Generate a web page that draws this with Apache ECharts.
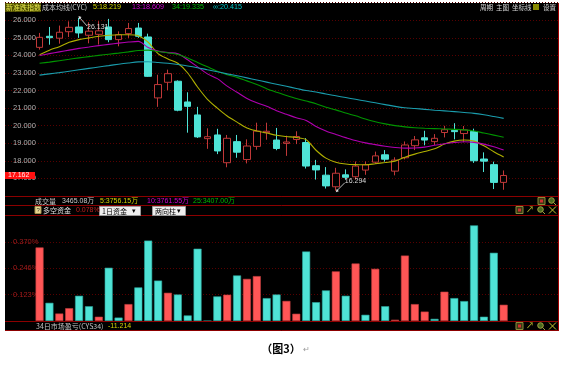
<!DOCTYPE html>
<html><head><meta charset="utf-8">
<script src="https://cdn.jsdelivr.net/npm/echarts@6/dist/echarts.min.js"></script>
<style>html,body{margin:0;padding:0;background:#fff}#c{width:561px;height:366px}</style>
</head><body><div id="c"></div>
<script>
// ---------- DATA ----------
const days = ['1','2','3','4','5','6','7','8','9','10','11','12','13','14','15','16','17','18','19','20','21','22','23','24','25','26','27','28','29','30','31','32','33','34','35','36','37','38','39','40','41','42','43','44','45','46','47','48'];
const openP  = [24.46,25.09,24.98,25.35,25.62,25.15,25.20,25.62,24.90,25.24,25.56,25.05,21.58,22.47,22.53,21.35,20.61,19.26,19.47,17.89,19.09,18.07,18.82,19.60,19.18,18.99,19.21,19.04,17.72,17.18,16.52,17.20,17.09,17.47,17.92,18.34,17.41,18.17,18.86,19.31,19.09,19.61,19.73,19.55,19.67,18.10,17.78,16.77];
const closeP = [25.03,25.01,25.32,25.60,25.28,25.38,25.40,24.90,25.18,25.53,25.09,22.81,22.34,22.96,20.88,21.10,19.36,19.37,18.56,19.28,18.49,18.84,19.69,19.68,18.70,19.07,19.38,17.70,17.48,16.57,17.29,17.06,17.70,17.77,18.28,18.09,18.04,18.90,19.19,19.18,19.28,19.77,19.66,19.76,18.00,17.98,16.77,17.162];
const lowP   = [24.33,24.61,24.67,25.05,25.00,24.69,24.62,24.75,24.52,25.00,25.00,22.78,21.07,22.02,20.82,19.60,19.30,18.68,18.38,17.63,18.17,17.85,18.63,19.20,18.60,18.28,18.95,17.56,16.93,16.42,16.294,16.92,16.93,17.20,17.82,17.95,17.17,18.08,18.61,18.88,18.90,19.33,19.22,19.05,17.88,17.36,16.39,16.35];
const highP  = [25.28,25.62,25.70,25.94,26.131,25.89,25.95,26.08,25.37,25.85,25.85,25.24,22.90,23.19,22.58,21.90,21.07,19.85,19.82,19.47,19.47,19.22,20.17,20.17,19.87,19.43,19.68,19.29,18.05,17.64,17.60,17.51,17.96,17.96,18.52,18.61,18.20,19.10,19.41,19.71,19.52,19.99,20.14,19.98,19.83,18.48,17.95,17.45];
const ma5    = [24.04,24.30,24.50,24.75,24.90,25.00,25.09,25.15,25.18,25.18,25.12,24.75,24.10,23.80,23.55,23.00,22.20,21.50,21.00,20.55,20.20,19.87,19.70,19.58,19.45,19.38,19.33,19.20,18.60,18.15,17.92,17.82,17.78,17.77,17.83,17.90,17.98,18.20,18.38,18.53,18.68,18.95,19.12,19.18,19.12,18.85,18.52,18.219];
const ma13   = [24.00,24.10,24.20,24.30,24.40,24.48,24.56,24.63,24.70,24.76,24.80,24.45,24.25,24.16,24.10,23.75,23.35,22.95,22.68,22.25,21.90,21.55,21.30,21.10,20.85,20.65,20.45,20.30,19.95,19.70,19.50,19.32,19.15,19.02,18.92,18.83,18.76,18.72,18.73,18.78,18.88,18.97,19.04,19.08,19.05,18.95,18.80,18.609];
const ma34   = [23.55,23.62,23.70,23.78,23.86,23.93,24.00,24.07,24.13,24.20,24.28,24.30,24.22,24.15,24.05,23.85,23.60,23.35,23.10,22.90,22.75,22.55,22.35,22.10,21.90,21.72,21.55,21.40,21.25,21.05,20.90,20.72,20.56,20.38,20.22,20.10,20.00,19.93,19.88,19.85,19.83,19.81,19.79,19.76,19.70,19.58,19.46,19.335];
const maInf  = [22.88,22.95,23.02,23.10,23.18,23.26,23.34,23.42,23.50,23.57,23.63,23.64,23.60,23.55,23.48,23.40,23.30,23.18,23.07,22.95,22.84,22.72,22.60,22.48,22.36,22.24,22.12,22.00,21.92,21.80,21.70,21.60,21.50,21.40,21.30,21.20,21.10,21.02,20.98,20.93,20.88,20.84,20.80,20.75,20.70,20.62,20.52,20.415];
const fundVal  = [0.344,0.085,0.035,0.060,0.118,0.069,0.020,0.249,0.016,0.079,0.157,0.376,0.189,0.132,0.124,0.026,0.338,0.000,0.115,0.123,0.213,0.197,0.210,0.107,0.124,0.094,0.034,0.325,0.088,0.143,0.232,0.118,0.269,0.029,0.244,0.069,0.006,0.306,0.079,0.044,0.010,0.137,0.107,0.093,0.447,0.020,0.319,0.076];
const fundSide = ['r','c','r','r','c','c','r','c','c','r','c','c','c','r','c','c','c','c','c','r','c','r','r','c','c','r','r','c','c','c','r','c','r','c','r','c','r','r','r','r','c','r','c','c','c','c','c','r'];
const priceTickLabels = {26:'26.000',25:'25.000',24:'24.000',23:'23.000',22:'22.000',21:'21.000',20:'20.000',19:'19.000',18:'18.000',17:'17.000'};
const fundTickLabels = ['', '0.123%', '0.246%', '0.370%', ''];
const headerMA = ['5:18.219','13:18.609','34:19.335','\u221e:20.415'];
const volHeader = ['3465.08\u4e07','5:3756.15\u4e07','10:3761.55\u4e07','25:3407.00\u4e07'];

// ---------- BUILD ----------
const LEAD = 3, TRAIL = 5;
const cats = [];
for (let i = 0; i < LEAD; i++) cats.push('pre' + i);
days.forEach(d => cats.push(d));
for (let i = 0; i < TRAIL; i++) cats.push('post' + i);
const padL = arr => { const a = []; for (let i = 0; i < LEAD; i++) a.push('-'); return a.concat(arr); };

const candleData = padL(days.map((d, i) => [openP[i], closeP[i], lowP[i], highP[i]]));
const RED = '#ff5656', CYAN = '#4fe3d6';
const fundData = padL(fundVal.map((v, i) => ({ value: v, itemStyle: fundSide[i] === 'r'
  ? { color: RED, borderColor: '#c03c3c', borderWidth: 0.6 }
  : { color: CYAN, borderColor: '#2aa89e', borderWidth: 0.6 } })));
const fundInterval = 0.37 / 3;

const FONT = '"Liberation Sans","Noto Sans CJK SC",sans-serif';
const CJK = '"Noto Sans CJK SC","Liberation Sans",sans-serif';
const GRID_RED = '#580000';

const chart = echarts.init(document.getElementById('c'), null, { width: 561, height: 366 });
const maLine = (name, data, color) => ({
  name, type: 'line', xAxisIndex: 0, yAxisIndex: 0, data: padL(data), symbol: 'none', smooth: 0.3,
  lineStyle: { color, width: 1.1 }, z: 4, silent: true, animation: false
});

chart.setOption({
  backgroundColor: '#ffffff',
  animation: false,
  grid: [
    { left: 5, right: 3, top: 2.74, height: 193.16 },
    { left: 5, right: 3, top: 215.5, height: 105.5 }
  ],
  xAxis: [
    { type: 'category', gridIndex: 0, data: cats, boundaryGap: true, axisLine: { show: false }, axisTick: { show: false }, axisLabel: { show: false }, splitLine: { show: false } },
    { type: 'category', gridIndex: 1, data: cats, boundaryGap: true, axisLine: { show: false }, axisTick: { show: false }, axisLabel: { show: false }, splitLine: { show: false } }
  ],
  yAxis: [
    { type: 'value', gridIndex: 0, min: 16, max: 27, interval: 1, axisLine: { show: false }, axisTick: { show: false },
      axisLabel: { inside: true, margin: 8, color: '#b0b0b0', fontSize: 7.5, fontFamily: FONT, showMinLabel: false, showMaxLabel: false,
        formatter: v => priceTickLabels[Math.round(v)] || '' },
      splitLine: { show: true, lineStyle: { color: GRID_RED, type: [1, 2], width: 1 } } },
    { type: 'value', gridIndex: 1, min: 0, max: fundInterval * 4, interval: fundInterval, axisLine: { show: false }, axisTick: { show: false },
      axisLabel: { inside: true, margin: 8, color: '#a01c1c', fontSize: 7.5, fontFamily: FONT, showMinLabel: false, showMaxLabel: false,
        formatter: v => fundTickLabels[Math.round(v / fundInterval)] || '' },
      splitLine: { show: true, lineStyle: { color: GRID_RED, type: [1, 2], width: 1 } } }
  ],
  series: [
    { name: 'K', type: 'candlestick', xAxisIndex: 0, yAxisIndex: 0, data: candleData, barWidth: 7, z: 3,
      itemStyle: { color: '#000000', color0: CYAN, borderColor: '#c03838', borderColor0: CYAN, borderWidth: 1 } },
    maLine('MA5', ma5, '#b0b000'),
    maLine('MA13', ma13, '#b000b0'),
    maLine('MA34', ma34, '#009400'),
    maLine('MAinf', maInf, '#1a9cac'),
    { name: 'fund', type: 'bar', xAxisIndex: 1, yAxisIndex: 1, data: fundData, barWidth: 8 }
  ]
});

// ---------- DECORATION ----------
function txt(text, x, y, fill, size, family, extra) {
  return Object.assign({ type: 'text', z: 50, silent: true, style: Object.assign({ text, x, y, fill, fontSize: size || 7, fontFamily: family || FONT, verticalAlign: 'middle', align: 'left' }, extra || {}) });
}
function line(x1, y1, x2, y2, stroke, z) {
  return { type: 'line', z: z || 40, silent: true, shape: { x1, y1, x2, y2 }, style: { stroke, lineWidth: 1 } };
}
function rect(x, y, w, h, fill, stroke, z) {
  return { type: 'rect', z: z || 40, silent: true, shape: { x, y, width: w, height: h }, style: { fill, stroke: stroke || null, lineWidth: 1 } };
}
function calcIcon(x, y) { return [rect(x, y, 7, 7, '#3b3b14', '#8a8a3a'), rect(x + 2, y + 2, 3, 3, '#d03030')]; }
function arrowIcon(x, y) { return [txt('\u2197', x - 1, y + 3.5, '#c8c832', 8, FONT)]; }
function lensIcon(x, y) { return [{ type: 'circle', z: 40, silent: true, shape: { cx: x + 3.5, cy: y + 3, r: 2.8 }, style: { fill: '#4a6a20', stroke: '#a0a040', lineWidth: 1 } }, line(x + 5.5, y + 5, x + 8, y + 7.5, '#a0a040')]; }
function closeIcon(x, y) { return [line(x, y, x + 7, y + 7, '#c8c832'), line(x + 7, y, x, y + 7, '#c8c832')]; }
function dropdown(x, y, w, label) {
  return [rect(x + 0.5, y + 0.5, w, 9, '#eeeeee', '#999999'), txt(label, x + 3, y + 5, '#000000', 7, CJK), txt('\u25BE', x + w - 8, y + 5, '#000000', 7, FONT)];
}

function buildGraphics() {
  const g = [];
  g.push(Object.assign(rect(5, 3, 553, 328, '#000000'), { z: -10 }));
  [196.5, 205.5, 215.5, 321.5, 330.5].forEach(y => g.push(line(5, y, 558, y, '#8c0000', 30)));
  g.push(line(558.5, 3, 558.5, 331, '#a00000', 30));
  // top header
  g.push(rect(5, 3, 36, 9, '#505000'));
  g.push(txt('\u65b0\u51c6\u8dcc\u6307\u6570', 6, 7.5, '#e8e84a', 7, CJK));
  g.push(txt('\u6210\u672c\u5747\u7ebf(CYC)', 42, 7.5, '#c8c8c8', 7, CJK));
  const maColors = ['#d2d200', '#d000d0', '#00b800', '#00c0c0'];
  const maX = [93, 132, 172, 213];
  headerMA.forEach((t, i) => g.push(txt(t, maX[i], 7.5, maColors[i], 7.2, FONT)));
  g.push(txt('\u5468\u671f', 480, 7.5, '#d8d8d8', 6.5, CJK));
  g.push(txt('\u4e3b\u56fe', 496, 7.5, '#d8d8d8', 6.5, CJK));
  g.push(txt('\u5750\u6807\u7ebf', 512, 7.5, '#d8d8d8', 6.5, CJK));
  g.push(rect(533, 4, 6, 6, '#8a8a00'));
  g.push(txt('\u8bbe\u7f6e', 543, 7.5, '#d8d8d8', 6.5, CJK));
  // volume header row
  g.push(txt('\u6210\u4ea4\u91cf', 35, 201, '#c8c8c8', 7, CJK));
  const vX = [62, 100, 147, 193], vC = ['#c8c8c8', '#d2d200', '#d000d0', '#00b800'];
  volHeader.forEach((t, i) => g.push(txt(t, vX[i], 201, vC[i], 7, FONT)));
  g.push(...calcIcon(538, 197.5), ...lensIcon(548, 197.5));
  // fund header row
  g.push(rect(35, 206.5, 6, 7, '#e8d890', '#a09050'));
  g.push(txt('?', 36.5, 210.2, '#303030', 6, FONT));
  g.push(txt('\u591a\u7a7a\u8d44\u91d1', 43, 210.5, '#e0e0e0', 7, CJK));
  g.push(txt('0.078%', 76, 210.5, '#c02020', 7, FONT));
  g.push(...dropdown(99, 206, 41, '1\u65e5\u8d44\u91d1'));
  g.push(...dropdown(152, 206, 33, '\u4e24\u5411\u67f1'));
  g.push(...calcIcon(516, 206.5), ...arrowIcon(527, 206.5), ...lensIcon(537, 206.5), ...closeIcon(549, 206.5));
  // bottom indicator row
  g.push(txt('34\u65e5\u5e02\u573a\u76c8\u4e8f(CYS34)', 36, 326, '#c0c0c0', 7, CJK));
  g.push(txt('-11.214', 108, 326, '#d2d200', 7, FONT));
  g.push(...calcIcon(516, 322.5), ...arrowIcon(527, 322.5), ...lensIcon(537, 322.5), ...closeIcon(549, 322.5));
  // caption
  g.push(txt('\uff08\u56fe3\uff09', 281, 349, '#000000', 11, CJK, { fontWeight: 'bold', align: 'center' }));
  g.push(txt('\u21b5', 303, 349.5, '#9a9a9a', 8, FONT));

  // annotations derived from the chart scales
  let hiI = 0, loI = 0;
  highP.forEach((v, i) => { if (v > highP[hiI]) hiI = i; });
  lowP.forEach((v, i) => { if (v < lowP[loI]) loI = i; });
  const hp = chart.convertToPixel({ gridIndex: 0 }, [hiI + LEAD, highP[hiI]]);
  const lp = chart.convertToPixel({ gridIndex: 0 }, [loI + LEAD, lowP[loI]]);
  g.push(line(hp[0], hp[1] - 1, hp[0] + 8, hp[1] + 8, '#bdbdbd', 45));
  g.push({ type: 'polygon', z: 45, silent: true, shape: { points: [[hp[0] - 0.5, hp[1] - 2], [hp[0] + 2.5, hp[1] - 1], [hp[0], hp[1] + 1.5]] }, style: { fill: '#e0e0e0' } });
  g.push(txt(highP[hiI].toFixed(3), hp[0] + 8, hp[1] + 9.5, '#d8d8d8', 7, FONT));
  g.push(line(lp[0] + 1, lp[1], lp[0] + 9, lp[1] - 8, '#bdbdbd', 45));
  g.push({ type: 'polygon', z: 45, silent: true, shape: { points: [[lp[0], lp[1] + 1.5], [lp[0] + 3, lp[1] + 0.5], [lp[0] + 1, lp[1] - 2]] }, style: { fill: '#e0e0e0' } });
  g.push(txt(lowP[loI].toFixed(3), lp[0] + 9, lp[1] - 9.5, '#d8d8d8', 7, FONT));
  // last price tag
  const last = closeP[closeP.length - 1];
  const cp = chart.convertToPixel({ gridIndex: 0 }, [LEAD, last]);
  g.push(rect(5, cp[1] - 3.5, 30, 7, '#ff1010', null, 46));
  g.push(txt(last.toFixed(3), 8, cp[1], '#ffe8e8', 7, FONT, {}));
  g[g.length - 1].z = 47;
  return g;
}
chart.setOption({ graphic: buildGraphics() });
</script>
</body></html>
